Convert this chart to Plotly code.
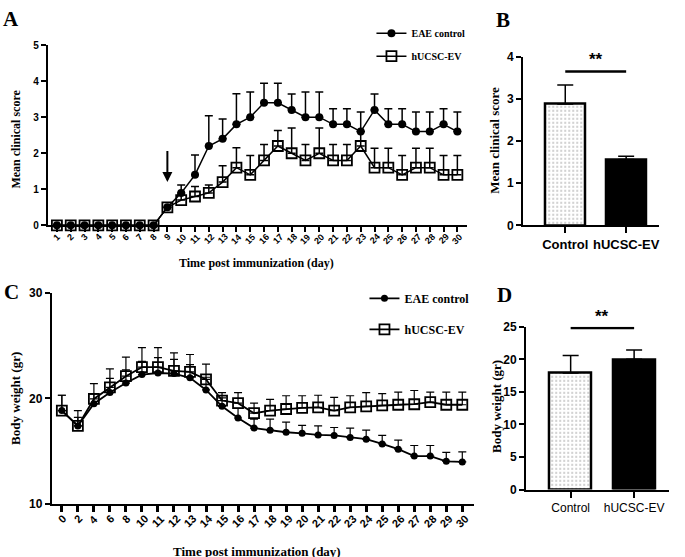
import plotly.graph_objects as go

# ---- data ----
days_a = [1, 2, 3, 4, 5, 6, 7, 8, 9, 10, 11, 12, 13, 14, 15, 16, 17, 18, 19, 20, 21, 22, 23, 24, 25, 26, 27, 28, 29, 30]
eae_score = [0, 0, 0, 0, 0, 0, 0, 0, 0.5, 0.9, 1.4, 2.2, 2.4, 2.8, 3.0, 3.4, 3.4, 3.2, 3.0, 3.0,
             2.8, 2.8, 2.6, 3.2, 2.8, 2.8, 2.6, 2.6, 2.8, 2.6]
eae_score_err = [0, 0, 0, 0, 0, 0, 0, 0, 0, 0.22, 0.55, 0.84, 0.55, 0.85, 0.7, 0.54, 0.54, 0.44, 0.7, 0.7,
                 0.43, 0.43, 0.54, 0.44, 0.43, 0.43, 0.54, 0.54, 0.43, 0.54]
hucsc_score = [0, 0, 0, 0, 0, 0, 0, 0, 0.5, 0.7, 0.8, 0.9, 1.2, 1.6, 1.4, 1.8, 2.2, 2.0, 1.8, 2.0,
               1.8, 1.8, 2.2, 1.6, 1.6, 1.4, 1.6, 1.6, 1.4, 1.4]
hucsc_score_err = [0, 0, 0, 0, 0, 0, 0, 0, 0, 0.15, 0.28, 0.22, 0.45, 0.55, 0.54, 0.44, 0.43, 0.7, 0.44, 0.7,
                   0.44, 0.44, 0.4, 0.54, 0.54, 0.54, 0.54, 0.54, 0.54, 0.54]
arrow_day = 9

days_c = ["0", "2", "4", "6", "8", "10", "11", "12", "13", "14", "15", "16", "17", "18", "19", "20",
          "21", "22", "23", "24", "25", "26", "27", "28", "29", "30"]
eae_weight = [18.85, 17.4, 19.5, 20.55, 21.45, 22.25, 22.4, 22.35, 21.95, 20.8, 19.25, 18.15, 17.2, 17.0,
              16.8, 16.7, 16.55, 16.5, 16.3, 16.15, 15.7, 15.2, 14.55, 14.55, 14.05, 14.0]
eae_weight_err = [1.45, 1.45, 0.9, 1.35, 1.25, 1.25, 1.45, 1.35, 1.25, 1.2, 0.8, 0.9, 0.85, 1.05,
                  0.95, 0.75, 0.85, 0.75, 0.9, 0.85, 0.8, 0.85, 1.0, 1.0, 0.85, 0.95]
hucsc_weight = [18.85, 17.4, 19.95, 21.05, 22.1, 22.95, 22.95, 22.6, 22.5, 21.8, 19.8, 19.55, 18.6, 18.85,
                19.0, 19.1, 19.15, 18.85, 19.15, 19.25, 19.35, 19.4, 19.45, 19.65, 19.4, 19.4]
hucsc_weight_err = [1.45, 0.8, 1.45, 1.75, 1.8, 1.85, 1.85, 1.7, 1.65, 1.45, 0.75, 1.0, 0.95, 1.05,
                    1.25, 1.15, 1.15, 1.25, 1.1, 1.3, 1.1, 1.2, 1.3, 0.95, 1.2, 1.2]

groups = ["Control", "hUCSC-EV"]
score_mean = [2.88, 1.56]
score_err = [0.45, 0.08]
score_sig_y = 3.65
weight_mean = [17.9, 20.0]
weight_err = [2.7, 1.45]
weight_sig_y = 24.8

W, H = 685, 557
SANS = "Arial, Liberation Sans, sans-serif"
SERIF = "Times New Roman, Liberation Serif, serif"

# pixel positions of the four panel frames (left, right, bottom, top)
A_BOX = (48, 468, 224, 39)
B_BOX = (524, 660, 224, 51)
C_BOX = (52, 475, 510, 293)
D_BOX = (527, 670, 495, 328)


def px_x(x):
    return x / W


def px_y(y):
    return 1 - y / H


def zeros(n):
    return [0] * n


fig = go.Figure()

# ---- panel A: clinical score over time ----
fig.add_trace(go.Scatter(
    x=days_a, y=hucsc_score, name="hUCSC-EV", mode="lines+markers", legend="legend", legendrank=2,
    legendgroup="h",
    line=dict(color="black", width=1.5),
    marker=dict(symbol="square-open", size=10, color="black", line=dict(width=1.8)),
    error_y=dict(type="data", symmetric=False, array=hucsc_score_err, arrayminus=zeros(len(days_a)),
                 color="black", thickness=1.5, width=4),
    cliponaxis=False, xaxis="x", yaxis="y"))
fig.add_trace(go.Scatter(
    x=days_a, y=eae_score, name="EAE control", mode="lines+markers", legend="legend", legendrank=1,
    legendgroup="e",
    line=dict(color="black", width=1.5),
    marker=dict(symbol="circle", size=8, color="black"),
    error_y=dict(type="data", symmetric=False, array=eae_score_err, arrayminus=zeros(len(days_a)),
                 color="black", thickness=1.5, width=4),
    cliponaxis=False, xaxis="x", yaxis="y"))

# ---- panel B: mean clinical score bars ----
fig.add_trace(go.Bar(
    x=[0, 1], y=score_mean, width=0.66, showlegend=False,
    marker=dict(color=["white", "black"], line=dict(color="black", width=2.5),
                pattern=dict(shape=[".", ""], fgcolor="#666666", size=4, solidity=0.15)),
    error_y=dict(type="data", symmetric=False, array=score_err, arrayminus=zeros(2),
                 color="black", thickness=1.5, width=8),
    xaxis="x2", yaxis="y2"))

# ---- panel C: body weight over time ----
fig.add_trace(go.Scatter(
    x=days_c, y=hucsc_weight, name="hUCSC-EV", mode="lines+markers", legend="legend2", legendrank=2,
    legendgroup="h2",
    line=dict(color="black", width=1.8),
    marker=dict(symbol="square-open", size=10, color="black", line=dict(width=1.8)),
    error_y=dict(type="data", symmetric=False, array=hucsc_weight_err, arrayminus=zeros(len(days_c)),
                 color="black", thickness=1.2, width=4),
    cliponaxis=False, xaxis="x3", yaxis="y3"))
fig.add_trace(go.Scatter(
    x=days_c, y=eae_weight, name="EAE control", mode="lines+markers", legend="legend2", legendrank=1,
    legendgroup="e2",
    line=dict(color="black", width=1.8),
    marker=dict(symbol="circle", size=7, color="black"),
    error_y=dict(type="data", symmetric=False, array=eae_weight_err, arrayminus=zeros(len(days_c)),
                 color="black", thickness=1.2, width=4),
    cliponaxis=False, xaxis="x3", yaxis="y3"))

# ---- panel D: body weight bars ----
fig.add_trace(go.Bar(
    x=[0, 1], y=weight_mean, width=0.66, showlegend=False,
    marker=dict(color=["white", "black"], line=dict(color="black", width=2.5),
                pattern=dict(shape=[".", ""], fgcolor="#666666", size=4, solidity=0.15)),
    error_y=dict(type="data", symmetric=False, array=weight_err, arrayminus=zeros(2),
                 color="black", thickness=1.5, width=8),
    xaxis="x4", yaxis="y4"))

axis_common = dict(showline=True, linecolor="black", linewidth=2.2, ticks="outside", tickcolor="black",
                   tickwidth=2, ticklen=5, showgrid=False, zeroline=False, fixedrange=True)

fig.update_layout(
    width=W, height=H, margin=dict(l=0, r=0, t=0, b=0),
    paper_bgcolor="white", plot_bgcolor="white", bargap=0,
    font=dict(family=SANS, color="black"),
    xaxis=dict(axis_common, domain=[px_x(A_BOX[0]), px_x(A_BOX[1])], range=[0.35, 30.72], anchor="y",
               tickvals=days_a, showticklabels=False),
    yaxis=dict(axis_common, domain=[px_y(A_BOX[2]), px_y(A_BOX[3])], range=[0, 5], anchor="x",
               tickvals=[0, 1, 2, 3, 4, 5], tickfont=dict(size=10, weight="bold")),
    xaxis2=dict(axis_common, domain=[px_x(B_BOX[0]), px_x(B_BOX[1])], range=[-0.69, 1.54], anchor="y2",
                tickvals=[0, 1], ticktext=groups, ticklen=6, tickfont=dict(size=13, weight="bold")),
    yaxis2=dict(axis_common, domain=[px_y(B_BOX[2]), px_y(B_BOX[3])], range=[0, 4], anchor="x2",
                tickvals=[0, 1, 2, 3, 4], tickfont=dict(size=12, weight="bold")),
    xaxis3=dict(axis_common, domain=[px_x(C_BOX[0]), px_x(C_BOX[1])], range=[-0.62, 25.75], anchor="y3",
                type="category", ticklen=6, tickwidth=2.5, showticklabels=False),
    yaxis3=dict(axis_common, domain=[px_y(C_BOX[2]), px_y(C_BOX[3])], range=[10, 30], anchor="x3",
                tickvals=[10, 20, 30], tickfont=dict(size=12, weight="bold")),
    xaxis4=dict(axis_common, domain=[px_x(D_BOX[0]), px_x(D_BOX[1])], range=[-0.70, 1.55], anchor="y4",
                tickvals=[0, 1], ticktext=groups, ticklen=6, tickfont=dict(size=12)),
    yaxis4=dict(axis_common, domain=[px_y(D_BOX[2]), px_y(D_BOX[3])], range=[0, 25], anchor="x4",
                tickvals=[0, 5, 10, 15, 20, 25], tickfont=dict(size=12, weight="bold")),
    legend=dict(x=px_x(372), y=px_y(12), xanchor="left", yanchor="top", bgcolor="rgba(0,0,0,0)",
                font=dict(family=SERIF, size=10, weight="bold"), itemwidth=30, tracegroupgap=4),
    legend2=dict(x=px_x(365), y=px_y(284), xanchor="left", yanchor="top", bgcolor="rgba(0,0,0,0)",
                 font=dict(family=SERIF, size=12, weight="bold"), itemwidth=30, tracegroupgap=12),
)

# significance bars
fig.add_shape(type="line", xref="x2", yref="y2", x0=0, x1=1, y0=score_sig_y, y1=score_sig_y,
              line=dict(color="black", width=2.5))
fig.add_shape(type="line", xref="x4", yref="y4", x0=0, x1=1, y0=weight_sig_y, y1=weight_sig_y,
              line=dict(color="black", width=2.5))

annotations = [
    # arrow at treatment start
    dict(x=arrow_day, y=1.2, xref="x", yref="y", ax=arrow_day, ay=2.1, axref="x", ayref="y",
         text="", showarrow=True, arrowhead=2, arrowsize=1, arrowwidth=2, arrowcolor="black"),
    dict(x=0.5, y=score_sig_y, xref="x2", yref="y2", text="**", yanchor="bottom",
         font=dict(size=17, weight="bold")),
    dict(x=0.5, y=weight_sig_y, xref="x4", yref="y4", text="**", yanchor="bottom",
         font=dict(size=17, weight="bold")),
    # panel letters
    dict(x=px_x(11), y=px_y(12), text="A", font=dict(family=SERIF, size=21, weight="bold")),
    dict(x=px_x(504), y=px_y(13), text="B", font=dict(family=SERIF, size=21, weight="bold")),
    dict(x=px_x(12), y=px_y(292), text="C", font=dict(family=SERIF, size=21, weight="bold")),
    dict(x=px_x(505), y=px_y(295), text="D", font=dict(family=SERIF, size=21, weight="bold")),
    # axis titles
    dict(x=px_x(16), y=px_y(135), text="Mean clinical score", textangle=-90,
         font=dict(family=SERIF, size=12, weight="bold")),
    dict(x=px_x(257), y=px_y(263), text="Time post immunization (day)",
         font=dict(family=SERIF, size=12, weight="bold")),
    dict(x=px_x(495), y=px_y(137), text="Mean clinical score", textangle=-90,
         font=dict(family=SERIF, size=13, weight="bold")),
    dict(x=px_x(16), y=px_y(401), text="Body weight (gr)", textangle=-90,
         font=dict(family=SERIF, size=13, weight="bold")),
    dict(x=px_x(257), y=px_y(559), text="Time post immunization (day)",
         font=dict(family=SERIF, size=13, weight="bold")),
    dict(x=px_x(497), y=px_y(410), text="Body weight (gr)", textangle=-90,
         font=dict(family=SERIF, size=13, weight="bold")),
]

# slanted day labels under both time axes
for d in days_a:
    annotations.append(dict(x=d, xref="x", y=px_y(A_BOX[2]), yref="paper", text=str(d), textangle=-45,
                            yanchor="top", yshift=-5, borderpad=0,
                            font=dict(size=9, weight="bold")))
# category axis: annotations are placed by category index
for i, d in enumerate(days_c):
    annotations.append(dict(x=i, xref="x3", y=px_y(C_BOX[2]), yref="paper", text=d, textangle=-45,
                            yanchor="top", yshift=-7, borderpad=0,
                            font=dict(size=11, weight="bold")))

for a in annotations:
    a.setdefault("xref", "paper")
    a.setdefault("yref", "paper")
    a.setdefault("showarrow", False)
    a.setdefault("xanchor", "center")
    a.setdefault("yanchor", "middle")
    fig.add_annotation(**a)

# the page body has a default margin; drop it so the figure sits at the window corner
fig.write_html("out.html", config={"displayModeBar": False},
               post_script="document.body.style.margin = '0';")
